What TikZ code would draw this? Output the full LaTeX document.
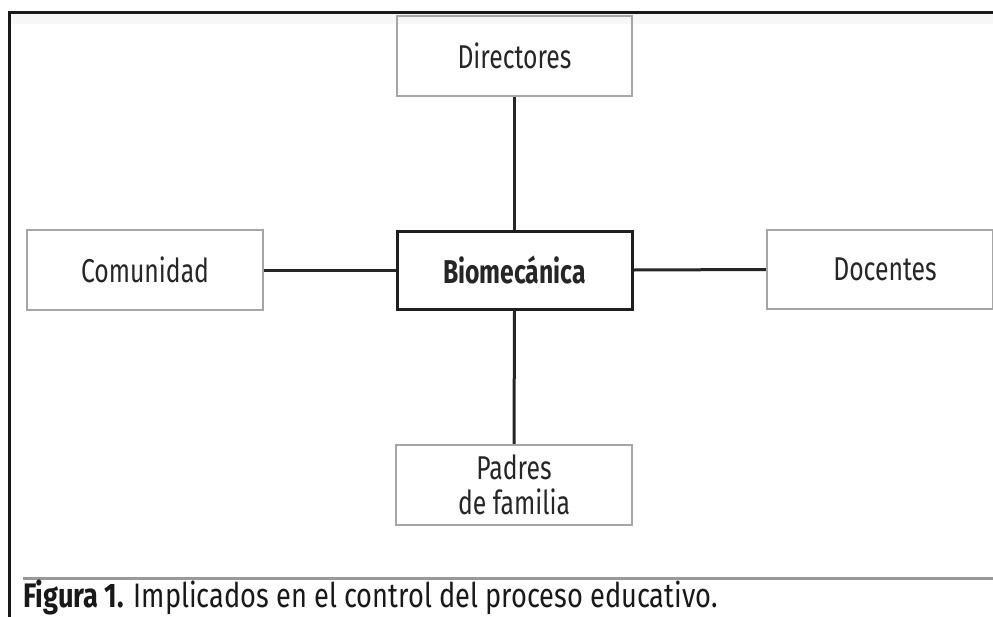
\documentclass[tikz,border=0pt]{standalone}
\usepackage{fontspec}
\setmainfont[FakeStretch=0.8]{Fira Sans}
\newfontfamily\boxfont[FakeStretch=0.75]{Fira Sans}
\begin{document}
\begin{tikzpicture}[x=1pt,y=-1pt,
  box/.style={draw=black!35, line width=2.5pt, minimum width=235pt, minimum height=80pt, inner sep=0pt, align=center, font=\boxfont\fontsize{33}{35}\selectfont, text=black!85},
  mainbox/.style={box, draw=black!88, line width=3pt, font=\boxfont\fontsize{33}{35}\selectfont\bfseries},
  link/.style={draw=black!85, line width=3pt}]
\clip (0,0) rectangle (993,616);
\fill[white] (0,0) rectangle (993,616);
% outer frame
\fill[black!3] (10,13) rectangle (993,24);
\draw[black!90, line width=3pt] (9,640) -- (9,12) -- (1000,12);
\draw[black!40, line width=3pt] (23,578) -- (1000,578);
% nodes
\node[box] (dir) at (514.5,56) {Directores};
\node[box, minimum width=236pt] (com) at (145,270) {Comunidad};
\node[mainbox, minimum height=78pt] (bio) at (514.5,270) {Biomecánica};
\node[box, minimum width=226pt, minimum height=79pt] (doc) at (880,269.5) {\hspace*{10pt}Docentes};
\node[box, minimum width=236pt] (pad) at (514,485) {Padres\\de familia};
% connectors
\draw[link] (dir.south) -- (bio.north);
\draw[link] (bio.south) -- (pad.north);
\draw[link] (com.east) -- (bio.west);
\draw[link] (bio.east) -- (doc.west);
% caption
\node[anchor=base west, inner sep=0pt, font=\fontsize{34}{36}\selectfont, text=black!90] (cap) at (23,607) {\textbf{Figura 1.} Implicados en el control del proceso educativo.};
\end{tikzpicture}
\end{document}
